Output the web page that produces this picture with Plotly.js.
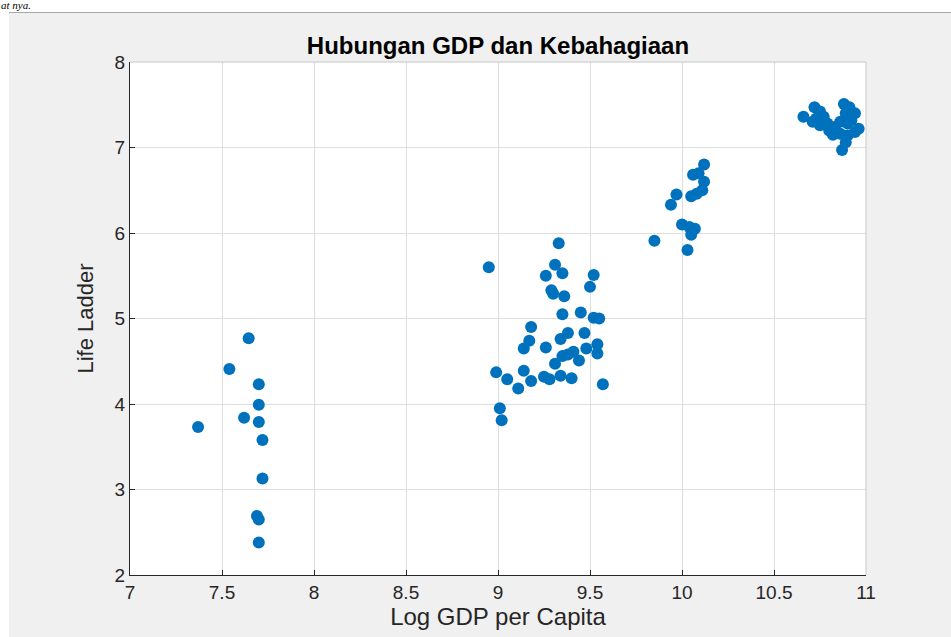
<!DOCTYPE html>
<html>
<head>
<meta charset="utf-8">
<script src="https://cdn.plot.ly/plotly-3.0.1.min.js"></script>
<style>
  html, body { margin: 0; padding: 0; background: #ffffff; width: 951px; height: 637px; overflow: hidden; position: relative; }
  #doc { position: absolute; left: 1px; top: 0px; font-family: 'Liberation Serif', serif; font-style: italic; font-size: 11px; line-height: 11px; color: #000; }
  #panel { position: absolute; left: 9px; top: 12px; width: 942px; height: 625px; background: #f0f0f0; border-top: 1px solid #a8a8a8; }
  #chart { position: absolute; left: 0; top: 0; width: 942px; height: 624px; }
</style>
</head>
<body>
<div id="doc">at nya.</div>
<div id="panel"><div id="chart"></div></div>
<script>
// Log GDP per Capita (x) and Life Ladder (y)
const logGDP = [
  7.37, 7.54, 7.645, 7.62, 7.70, 7.70, 7.70, 7.72, 7.72, 7.69, 7.70, 7.70,
  8.95, 9.33, 9.31, 9.26, 9.35, 9.52, 9.50, 9.29, 9.30, 9.36, 9.35, 9.45, 9.52, 9.55,
  9.18, 9.38, 9.47, 9.34, 9.17, 9.14, 9.26, 9.54, 9.48, 9.41, 9.35, 9.54, 9.44, 9.31,
  8.99, 9.14, 9.05, 9.18, 9.25, 9.28, 9.34, 9.40, 9.11, 9.57, 9.01, 9.02, 9.38,
  10.12, 10.09, 10.06, 10.12, 10.11, 10.08, 10.05, 9.97, 9.94, 10.00, 10.04, 10.07, 10.05, 9.85, 10.03,
  10.66, 10.72, 10.75, 10.77, 10.71, 10.75, 10.79, 10.80, 10.83, 10.88, 10.91, 10.89,
  10.94, 10.86, 10.90, 10.96, 10.86, 10.90, 10.94, 10.89, 10.87, 10.73, 10.82, 10.92
];
const lifeLadder = [
  3.73, 4.41, 4.77, 3.84, 4.23, 3.99, 3.79, 3.58, 3.13, 2.69, 2.65, 2.38,
  5.60, 5.88, 5.63, 5.50, 5.53, 5.51, 5.37, 5.33, 5.29, 5.26, 5.05, 5.07, 5.01, 5.00,
  4.90, 4.83, 4.83, 4.76, 4.74, 4.65, 4.66, 4.70, 4.65, 4.61, 4.56, 4.59, 4.51, 4.47,
  4.37, 4.39, 4.29, 4.27, 4.32, 4.29, 4.33, 4.30, 4.18, 4.23, 3.95, 3.81, 4.58,
  6.80, 6.70, 6.68, 6.60, 6.50, 6.46, 6.43, 6.45, 6.33, 6.10, 6.07, 6.05, 5.98, 5.91, 5.80,
  7.36, 7.47, 7.42, 7.36, 7.30, 7.26, 7.28, 7.20, 7.24, 7.51, 7.47, 7.40,
  7.40, 7.30, 7.28, 7.22, 7.16, 7.14, 7.18, 7.06, 6.97, 7.34, 7.15, 7.32
];
const xTicks = [7, 7.5, 8, 8.5, 9, 9.5, 10, 10.5, 11];
const xTickText = ['7', '7.5', '8', '8.5', '9', '9.5', '10', '10.5', '11'];
const yTicks = [2, 3, 4, 5, 6, 7, 8];
const yTickText = ['2', '3', '4', '5', '6', '7', '8'];

const font = 'Liberation Sans, Arial, Helvetica, sans-serif';
const axisCol = '#262626';

const trace = {
  x: logGDP, y: lifeLadder, type: 'scatter', mode: 'markers',
  marker: { color: '#0072BD', size: 12, line: { width: 0 } },
  hoverinfo: 'x+y'
};

const layout = {
  width: 942, height: 624,
  margin: { l: 121, r: 85, t: 49, b: 62 },
  paper_bgcolor: '#f0f0f0', plot_bgcolor: '#ffffff',
  showlegend: false,
  title: { text: 'Hubungan GDP dan Kebahagiaan', font: { family: font, size: 24, color: '#000', weight: 'bold' },
           x: 0.5, xref: 'paper', y: 1, yref: 'paper', yanchor: 'bottom', pad: { b: 8 } },
  xaxis: {
    range: [7, 11], tickvals: xTicks, ticktext: xTickText,
    showgrid: true, gridcolor: '#dedede', gridwidth: 1,
    zeroline: false, showline: true, linecolor: axisCol, linewidth: 1,
    ticks: 'inside', ticklen: 5, tickcolor: axisCol,
    tickfont: { family: font, size: 19, color: axisCol },
    title: { text: 'Log GDP per Capita', font: { family: font, size: 24, color: axisCol }, standoff: 4 }
  },
  yaxis: {
    range: [2, 8], tickvals: yTicks, ticktext: yTickText,
    showgrid: true, gridcolor: '#dedede', gridwidth: 1,
    zeroline: false, showline: true, linecolor: axisCol, linewidth: 1,
    ticks: 'inside', ticklen: 5, tickcolor: axisCol,
    tickfont: { family: font, size: 19, color: axisCol },
    title: { text: 'Life Ladder', font: { family: font, size: 22, color: axisCol }, standoff: 14 }
  },
  shapes: [
    { type: 'line', xref: 'paper', yref: 'paper', x0: 0, x1: 1, y0: 1, y1: 1, line: { color: '#c8c8c8', width: 1 } },
    { type: 'line', xref: 'paper', yref: 'paper', x0: 1, x1: 1, y0: 0, y1: 1, line: { color: '#c8c8c8', width: 1 } }
  ]
};

Plotly.newPlot('chart', [trace], layout, { displayModeBar: false, staticPlot: true });
</script>
</body>
</html>
